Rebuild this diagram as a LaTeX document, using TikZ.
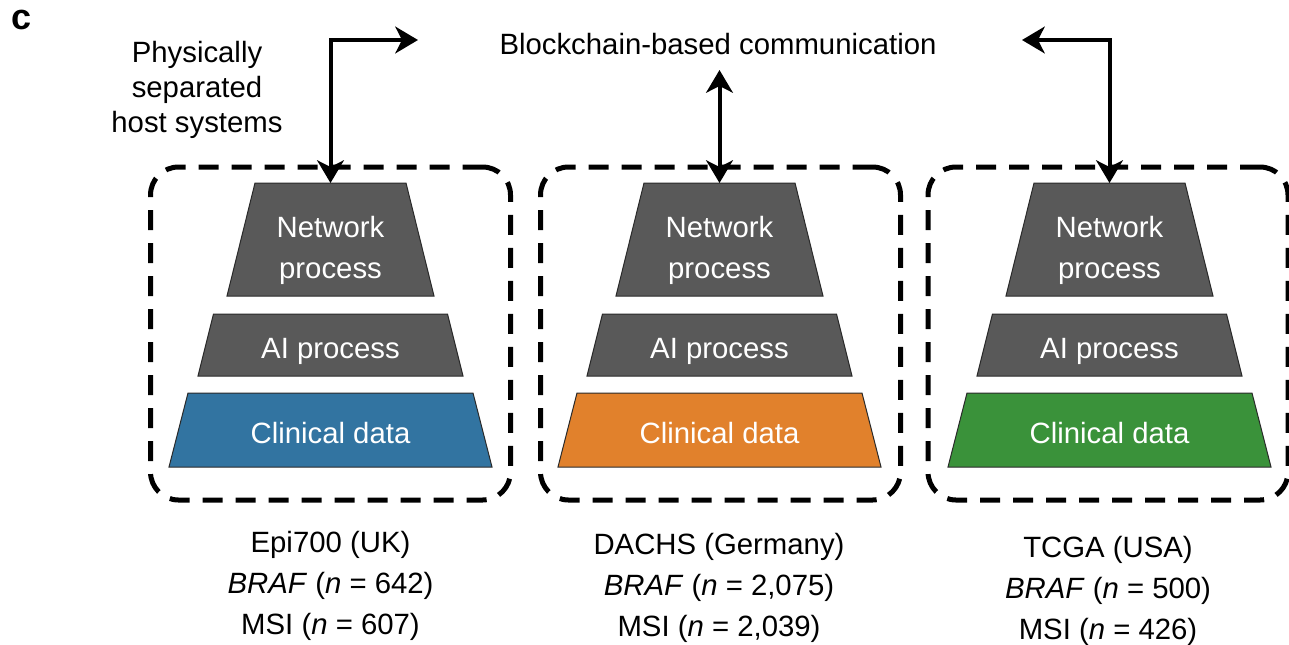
\documentclass[tikz,border=0pt]{standalone}
\usepackage{fontspec}
\setmainfont{Liberation Sans}
\usetikzlibrary{arrows.meta}
\definecolor{procgray}{HTML}{595959}
\definecolor{edgegray}{HTML}{2A2A2A}
\definecolor{clinblue}{HTML}{3274A1}
\definecolor{clinorange}{HTML}{E1812C}
\definecolor{clingreen}{HTML}{3A923A}
\begin{document}
\begin{tikzpicture}[x=0.75pt,y=-0.75pt,
  hostbox/.style={draw=black, line width=3.75pt, dash pattern=on 15pt off 9.75pt, rounded corners=21pt, minimum width=270pt, minimum height=249.75pt, inner sep=0pt},
  layer/.style={draw=edgegray, line width=0.75pt, line join=miter},
  ltext/.style={text=white, align=center, inner sep=0pt, font=\fontsize{22}{30.75}\selectfont},
  link/.style={line width=3pt, {Stealth[length=17pt,width=20pt,inset=5pt]}-{Stealth[length=17pt,width=20pt,inset=5pt]}},
  txt/.style={font=\fontsize{22}{26.25}\selectfont, align=center},
  cohort/.style={font=\fontsize{22}{30.5}\selectfont, align=center}
]
\useasboundingbox (0,0) rectangle (1289,644);

% host boxes
\node[hostbox] (box1) at (330.5,333.5) {};
\node[hostbox] (box2) at (720.5,333.5) {};
\node[hostbox] (box3) at (1108,333.5) {};

% layer stacks
\foreach \i/\cx/\col in {1/330.5/clinblue, 2/719.5/clinorange, 3/1109.5/clingreen} {
  \filldraw[layer, fill=procgray] (\cx-75.5,183) -- (\cx+75.5,183) -- (\cx+103.5,296) -- (\cx-103.5,296) -- cycle;
  \filldraw[layer, fill=procgray] (\cx-117,314) -- (\cx+117,314) -- (\cx+132.5,376) -- (\cx-132.5,376) -- cycle;
  \filldraw[layer, fill=\col] (\cx-142.5,393) -- (\cx+142.5,393) -- (\cx+161.5,467) -- (\cx-161.5,467) -- cycle;
  \coordinate (net\i) at (\cx,183);
  \node[ltext] (net\i t) at (\cx,250) {Network\\process};
  \node[ltext] (ai\i t) at (\cx,351) {AI process};
  \node[ltext] (clin\i t) at (\cx,433.5) {Clinical data};
}

% texts
\node[font=\bfseries\fontsize{27}{30}\selectfont] (lab) at (22,20) {c};
\node[txt] (phys) at (197,90) {Physically\\separated\\host systems};
\node[txt] (chain) at (718,44) {Blockchain-based communication};

% arrows
\coordinate (t1) at (418,40);
\coordinate (t2) at (719.5,70);
\coordinate (t3) at (1022,40);
\draw[link] (t1) -| (net1);
\draw[link] (t2) -- (net2);
\draw[link] (t3) -| (net3);

% cohorts
\node[cohort] (co1) at (330.5,586) {Epi700 (UK)\\\textit{BRAF} (\textit{n} = 642)\\MSI (\textit{n} = 607)};
\node[cohort] (co2) at (719,588) {DACHS (Germany)\\\textit{BRAF} (\textit{n} = 2,075)\\MSI (\textit{n} = 2,039)};
\node[cohort] (co3) at (1108,591) {TCGA (USA)\\\textit{BRAF} (\textit{n} = 500)\\MSI (\textit{n} = 426)};
\end{tikzpicture}
\end{document}
